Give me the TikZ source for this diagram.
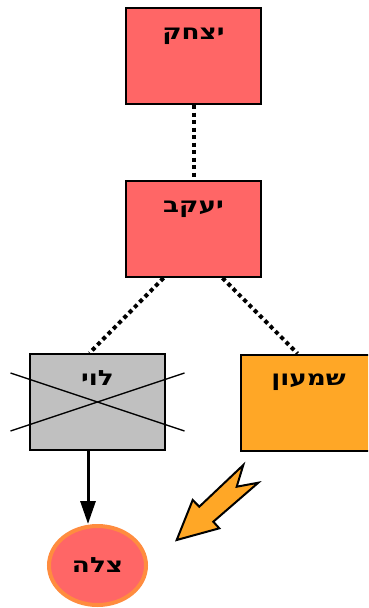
\documentclass[tikz,border=0pt]{standalone}
\usepackage{fontspec}
\setmainfont{Liberation Sans}
\newfontfamily\hebfont[Script=Hebrew, FakeStretch=1.25]{DejaVu Sans}
\TeXXeTstate=1
\usepackage{xcolor}
\usetikzlibrary{arrows.meta, positioning, calc, shapes.geometric}

\definecolor{redbox}{HTML}{FF6666}
\definecolor{orangebox}{HTML}{FFA726}
\definecolor{greybox}{HTML}{C0C0C0}
\definecolor{ringorange}{HTML}{FF8C3F}

\begin{document}
\begin{tikzpicture}[
    x=1pt, y=-1pt,
    font=\hebfont\bfseries\fontsize{21}{23}\selectfont,
    person/.style={draw, line width=2pt, minimum width=135pt, inner xsep=0pt, inner ysep=0pt, text height=31pt, text depth=65pt},
    child/.style={draw=ringorange, fill=redbox, ellipse, line width=4pt, minimum width=97pt, minimum height=79pt, inner sep=0pt},
    kin/.style={line width=4pt, dash pattern=on 4pt off 3.5pt},
    arrow/.style={-{Triangle[length=23pt,width=15pt]}, line width=3pt},
    cross/.style={line width=1.3pt}
]
    \clip (0,0) rectangle (368,608);
    \node[person, fill=redbox] (yitzhak) at (193.5,56) {\beginR יצחק\endR};
    \node[person, fill=redbox] (yaakov) at (193.5,229) {\beginR יעקב\endR};
    \node[person, fill=greybox] (levi) at (97.5,402) {\beginR לוי\endR};
    \node[person, fill=orangebox] (shimon) at (308.5,402.5) {\beginR שמעון\endR};
    \node[child] (tzila) at (97.5,565.5) {\beginR צלה\endR};
    \draw[kin] (yitzhak.south) -- (yaakov.north);
    \draw[kin] ([xshift=-30pt]yaakov.south) -- ([xshift=-8pt]levi.north);
    \draw[kin] ([xshift=29pt]yaakov.south) -- ([xshift=-11pt]shimon.north);
    % levi is crossed out
    \draw[cross] ($(levi.center)+(-87,-29)$) -- ($(levi.center)+(87,29)$);
    \draw[cross] ($(levi.center)+(-87,29)$) -- ($(levi.center)+(87,-29)$);
    \draw[arrow] ([xshift=-9.5pt]levi.south) -- ([xshift=-9.5pt]levi.south |- tzila.north);
    % bent arrow pointing at tzila
    \draw[fill=orangebox, line width=2pt, line join=miter] (243.3,465) -- (236.7,486.7) -- (258.3,482.7) -- (213.3,521.7) -- (219.3,528.3) -- (176.7,540) -- (192.7,500) -- (199.3,506.7) -- cycle;
\end{tikzpicture}
\end{document}
